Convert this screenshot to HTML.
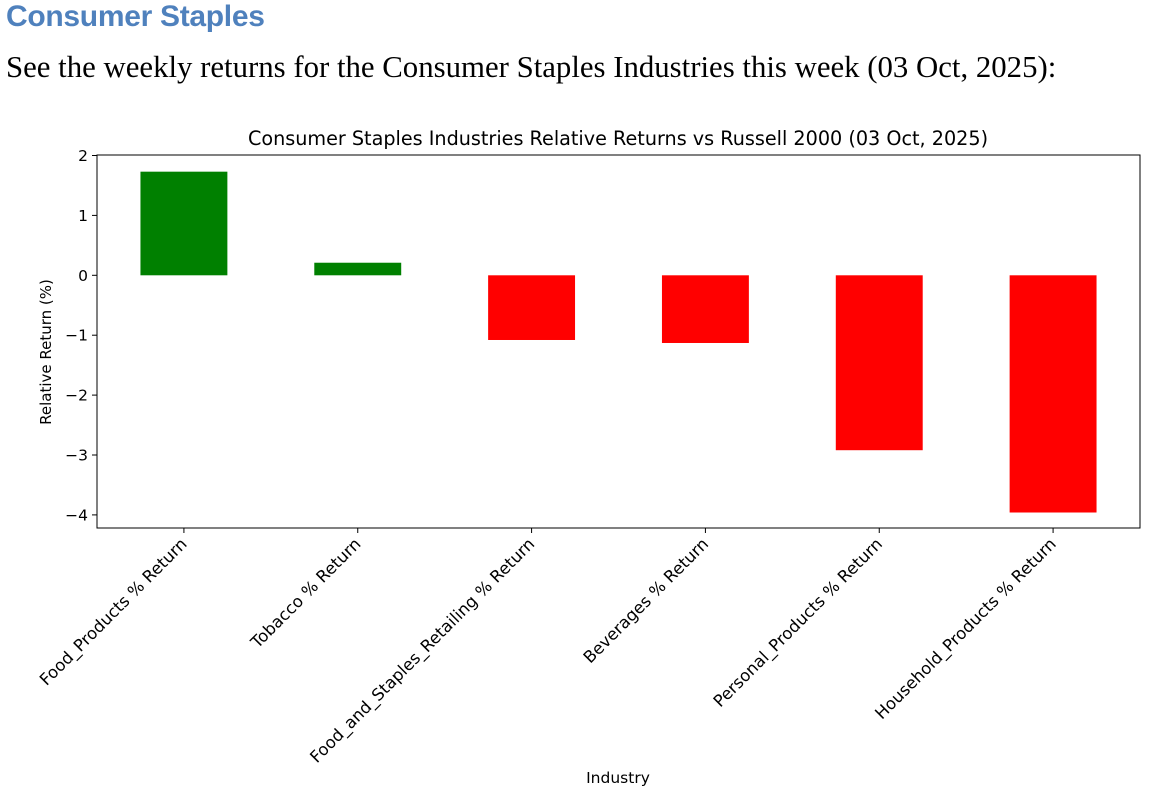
<!DOCTYPE html>
<html><head><meta charset="utf-8">
<style>
html,body{margin:0;padding:0;background:#fff;width:1150px;height:798px;overflow:hidden;}
#h1{position:absolute;left:6px;top:0px;font-family:"Liberation Sans",sans-serif;font-weight:bold;font-size:30px;color:#4f81bd;letter-spacing:-0.3px;}
#p{position:absolute;left:6px;top:50px;font-family:"Liberation Serif",serif;font-size:30.8px;color:#000;}
svg{position:absolute;left:0;top:0;}
text{font-family:"DejaVu Sans","Liberation Sans",sans-serif;fill:#000;}
</style></head><body>
<div id="h1">Consumer Staples</div>
<div id="p">See the weekly returns for the Consumer Staples Industries this week (03 Oct, 2025):</div>
<svg id="chart" width="1150" height="798"></svg>
<script>
const categories = ["Food_Products % Return","Tobacco % Return","Food_and_Staples_Retailing % Return","Beverages % Return","Personal_Products % Return","Household_Products % Return"];
const values = [1.73, 0.21, -1.08, -1.13, -2.92, -3.96];
const yTicks = [2, 1, 0, -1, -2, -3, -4];
const yTickLabels = ["2","1","0","\u22121","\u22122","\u22123","\u22124"];

const svg = document.getElementById('chart');
const NS = "http://www.w3.org/2000/svg";
const L = 97, R = 1140, T = 155, B = 528;
const y0px = 275.3, unit = 59.9;
const yScale = v => y0px - v * unit;
const step = (R - L) / categories.length;
const xScale = i => L + step * (i + 0.5);
function mk(tag, attrs, txt) {
  const e = document.createElementNS(NS, tag);
  for (const k in attrs) e.setAttribute(k, attrs[k]);
  if (txt !== undefined) e.textContent = txt;
  svg.appendChild(e);
  return e;
}
values.forEach((v, i) => {
  const top = yScale(Math.max(v, 0)), bot = yScale(Math.min(v, 0));
  const r = mk('rect', {x: xScale(i) - step * 0.25, y: top, width: step * 0.5, height: bot - top, fill: v >= 0 ? '#008000' : '#ff0000'});
  
  
});
const fr = mk('rect', {x: L, y: T, width: R - L, height: B - T, fill: 'none', stroke: '#000', 'stroke-width': 1});


yTicks.forEach((t, i) => {
  const y = yScale(t);
  mk('line', {x1: L - 5, x2: L, y1: y, y2: y, stroke: '#000', 'stroke-width': 1});
  const tl = mk('text', {x: L - 9, y: y + 5.5, 'text-anchor': 'end', 'font-size': 15.5}, yTickLabels[i]);
  
  
});
categories.forEach((c, i) => {
  const x = xScale(i);
  mk('line', {x1: x, x2: x, y1: B, y2: B + 5, stroke: '#000', 'stroke-width': 1});
  const tl = mk('text', {x: x + 4, y: B + 17, 'text-anchor': 'end', 'font-size': 16.5, transform: 'rotate(-45 ' + (x + 4) + ' ' + (B + 17) + ')'}, c);
  
  
});
const title = mk('text', {x: (L + R) / 2 - 0.5, y: 145, 'text-anchor': 'middle', 'font-size': 19.2}, 'Consumer Staples Industries Relative Returns vs Russell 2000 (03 Oct, 2025)');


const yl = mk('text', {x: 51, y: 352, 'text-anchor': 'middle', 'font-size': 15, transform: 'rotate(-90 51 352)'}, 'Relative Return (%)');


const xl = mk('text', {x: 618, y: 783, 'text-anchor': 'middle', 'font-size': 15.5}, 'Industry');


</script>
</body></html>
